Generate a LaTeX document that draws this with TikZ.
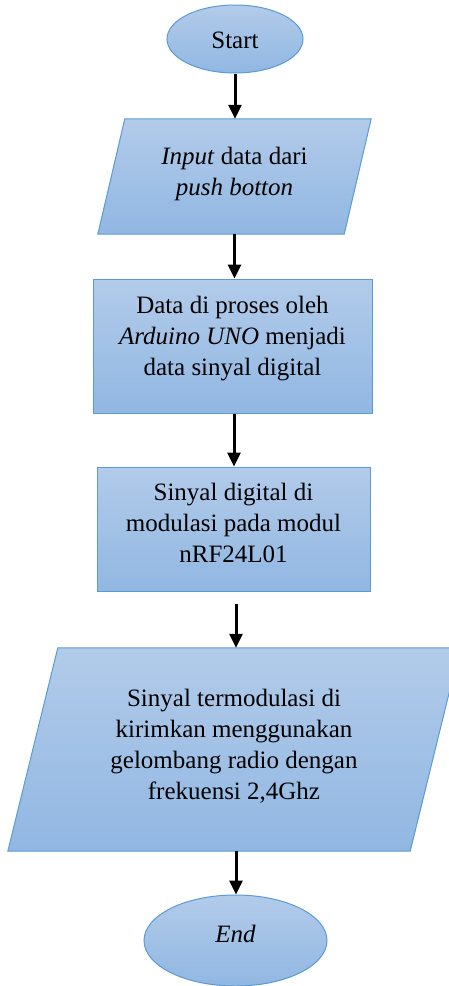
\documentclass[tikz,border=0pt]{standalone}
\usepackage{fontspec}
\setmainfont{Liberation Serif}
\usetikzlibrary{arrows.meta,shapes.geometric}
\definecolor{fillTop}{RGB}{178,203,234}
\definecolor{fillBot}{RGB}{145,183,226}
\definecolor{edgeBlue}{RGB}{91,155,213}
\begin{document}
\begin{tikzpicture}[x=1pt,y=-1pt,
  box/.style={draw=edgeBlue,line width=1pt,top color=fillTop,bottom color=fillBot,inner sep=0pt},
  term/.style={box,ellipse},
  ghost/.style={inner sep=0pt,rectangle},
  txt/.style={align=center,font=\fontsize{25}{31}\selectfont,inner sep=0pt},
  flow/.style={line width=3pt,-{Triangle[width=13pt,length=14pt]}}]
\useasboundingbox (0,0) rectangle (449,986);
\begin{scope}
\clip (0,0) rectangle (449,986);
% Start
\node[term,minimum width=136pt,minimum height=68pt] (start) at (235,39) {};
\node[txt] (startt) at (235,40.5) {Start};
% Input parallelogram
\node[ghost,minimum width=273pt,minimum height=115pt] (in1) at (234.5,176.5) {};
\path[box] ([xshift=27pt]in1.north west) -- (in1.north east) -- ([xshift=-27pt]in1.south east) -- (in1.south west) -- cycle;
\node[txt] (in1t) at (234.5,174.2) {\textit{Input} data dari\\\textit{push botton}};
% Process 1
\node[box,rectangle,minimum width=279pt,minimum height=134pt] (r1) at (232.5,346) {};
\node[txt] (r1t) at (232.5,338.2) {Data di proses oleh\\\textit{Arduino UNO} menjadi\\data sinyal digital};
% Process 2
\node[box,rectangle,minimum width=273pt,minimum height=124pt] (r2) at (233.5,529) {};
\node[txt] (r2t) at (233.5,522.5) {Sinyal digital di\\modulasi pada modul\\nRF24L01};
% Output parallelogram
\node[ghost,minimum width=452pt,minimum height=203pt] (in2) at (234,749.5) {};
\path[box] ([xshift=50pt]in2.north west) -- (in2.north east) -- ([xshift=-50pt]in2.south east) -- (in2.south west) -- cycle;
\node[txt] (in2t) at (234,746.5) {Sinyal termodulasi di\\kirimkan menggunakan\\gelombang radio dengan\\frekuensi 2,4Ghz};
% End
\node[term,minimum width=183pt,minimum height=91pt] (end) at (235.5,940.5) {};
\node[txt] (endt) at (235.5,934.2) {\textit{End}};
\end{scope}
% Arrows
\draw[flow] (start.south) -- (start.south |- in1.north);
\draw[flow] (in1.south) -- (in1.south |- r1.north);
\draw[flow] ([xshift=1.5pt]r1.south) -- ([xshift=1.5pt]r1.south |- r2.north);
\draw[flow,shorten <=12pt] ([xshift=2.5pt]r2.south) -- ([xshift=2.5pt]r2.south |- in2.north);
\draw[flow] ([xshift=2pt]in2.south) -- ([xshift=2pt]in2.south |- end.north);
\end{tikzpicture}
\end{document}
